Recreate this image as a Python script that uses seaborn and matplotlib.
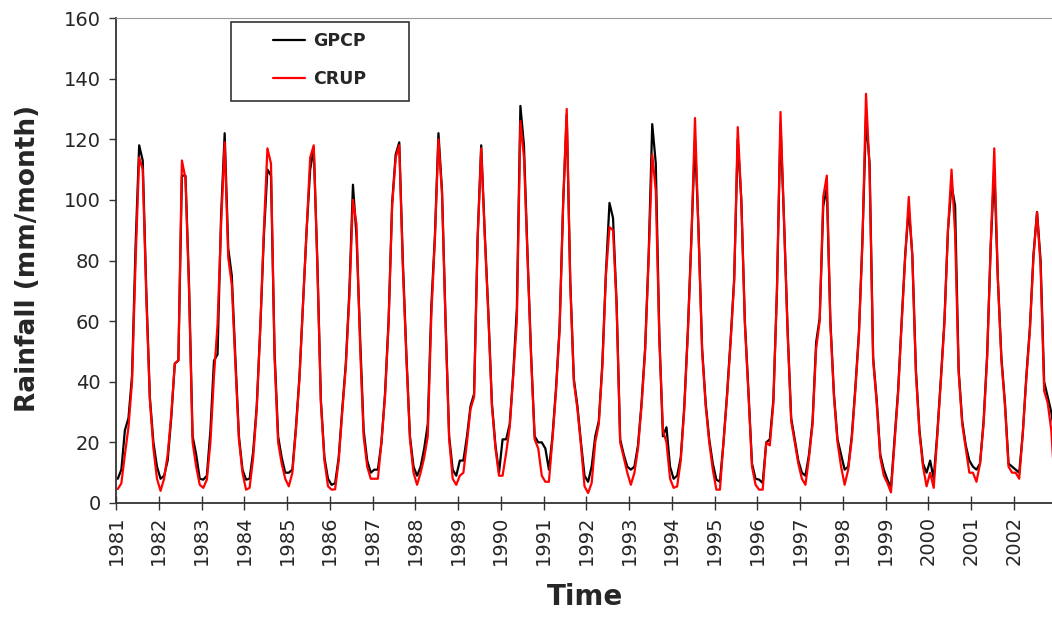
import numpy as np
import pandas as pd
import seaborn as sns
import matplotlib.pyplot as plt
from matplotlib.patches import Rectangle

# monthly rainfall, Jan 1981 - Dec 2002 (mm/month)
years = list(range(1981, 2003))

gpcp = [
    8, 11, 24, 28, 42, 85, 118, 113, 70, 35, 20, 12,      # 1981
    8, 9, 14, 28, 46, 47, 108, 108, 72, 22, 16, 8,        # 1982
    7.7, 9, 24, 47, 49, 95, 122, 84, 75, 48, 22, 11,      # 1983
    7.7, 8, 17, 32, 58, 88, 110, 108, 50, 22, 15, 10,     # 1984
    10, 11, 25, 42, 66, 90, 110, 117, 80, 34, 15, 8,      # 1985
    6, 6.5, 15, 31, 46, 70, 105, 88, 55, 24, 14, 10,      # 1986
    11, 11, 20, 36, 60, 99, 115, 119, 80, 49, 22, 12,     # 1987
    9, 12, 18, 26, 65, 88, 122, 103, 60, 22, 11, 9,       # 1988
    14, 14, 22, 32, 36, 88, 118, 89, 63, 33, 19, 10,      # 1989
    21, 21, 26, 43, 64, 131, 118, 82, 49, 22, 20, 20,     # 1990
    18, 11, 22, 38, 58, 99, 128, 73, 41, 32, 20, 9,       # 1991
    7, 12, 22, 27, 46, 76, 99, 94, 66, 21, 16, 12,        # 1992
    11, 12, 19, 33, 51, 82, 125, 112, 55, 22, 25, 12,     # 1993
    8, 9, 15, 32, 57, 88, 120, 90, 51, 33, 21, 13,        # 1994
    7.7, 7, 20, 36, 54, 74, 120, 100, 60, 37, 13, 8,      # 1995
    7.7, 6.6, 20, 21, 34, 70, 125, 93, 57, 28, 21, 14,    # 1996
    10, 9, 16, 27, 53, 61, 98, 104, 60, 36, 21, 16,       # 1997
    11, 12, 22, 38, 56, 87, 127, 112, 48, 34, 16, 11,     # 1998
    7.7, 5, 21, 37, 60, 82, 97, 82, 44, 24, 13, 10,       # 1999
    14, 8, 23, 41, 60, 90, 105, 98, 44, 27, 19, 14,       # 2000
    12, 11, 13, 27, 49, 85, 110, 74, 48, 33, 13, 12,      # 2001
    11, 10, 23, 42, 58, 82, 96, 80, 40, 35, 30, 22,       # 2002
]

crup = [
    4.6, 6.5, 16, 25, 40, 80, 114, 110, 68, 34, 18, 8,    # 1981
    4, 8, 16, 29, 46, 47, 113, 107, 70, 20, 12, 6,        # 1982
    5, 7.7, 20, 42, 59, 92, 119, 81, 72, 46, 21, 10,      # 1983
    4.4, 5, 15, 31, 58, 90, 117, 112, 48, 20, 13, 8,      # 1984
    5.5, 10, 24, 41, 66, 90, 114, 118, 79, 33, 14, 5.5,   # 1985
    4.4, 4.5, 14, 30, 45, 68, 100, 92, 52, 22, 12, 8,     # 1986
    8, 8, 20, 35, 59, 98, 114, 118, 78, 48, 21, 10,       # 1987
    6, 10, 15, 22, 62, 87, 120, 102, 59, 21, 8, 6,        # 1988
    9, 10, 20, 31, 35, 87, 117, 88, 62, 32, 18, 9,        # 1989
    9, 16.5, 25, 42, 60, 126, 114, 81, 48, 21, 18, 9,     # 1990
    7, 7, 21, 37, 57, 99, 130, 72, 40, 31, 19, 5.5,       # 1991
    3.3, 6.6, 20, 26, 45, 75, 91, 90, 65, 20, 15, 10,     # 1992
    6, 10, 18, 32, 50, 81, 115, 103, 54, 24, 20, 8,       # 1993
    5, 5.5, 14, 31, 56, 87, 127, 89, 50, 32, 20, 11,      # 1994
    4.4, 4.4, 20, 35, 53, 73, 124, 100, 59, 36, 12, 6,    # 1995
    4.4, 4.4, 20, 19, 33, 70, 129, 92, 56, 27, 20, 13,    # 1996
    8, 6, 15, 26, 51, 60, 101, 108, 59, 35, 20, 12,       # 1997
    6, 11, 21, 37, 55, 86, 135, 110, 47, 33, 15, 9,       # 1998
    6.6, 3.5, 20, 36, 59, 81, 101, 81, 43, 23, 12, 5.5,   # 1999
    10, 5, 22, 40, 59, 90, 110, 89, 43, 26, 18, 10,       # 2000
    10, 7, 13, 26, 48, 85, 117, 74, 47, 32, 12, 10,       # 2001
    10, 8, 23, 41, 57, 81, 96, 78, 37, 33, 24, 5,         # 2002
]

n = len(gpcp)
t = np.arange(n) + 0.5   # month centres, year ticks on Jan boundaries

df = pd.concat([
    pd.DataFrame({"t": t, "rain": gpcp, "series": "GPCP"}),
    pd.DataFrame({"t": t, "rain": crup, "series": "CRUP"}),
])

sns.set_style("white")
plt.rcParams['font.family'] = ['DejaVu Sans']

W, H = 1052, 617
fig = plt.figure(figsize=(W / 100, H / 100), dpi=100)
ax = fig.add_axes([116 / W, 1 - 503 / H, (W - 116) / W, 485 / H])

sns.lineplot(data=df, x="t", y="rain", hue="series", hue_order=["GPCP", "CRUP"],
             palette={"GPCP": "black", "CRUP": "#ff0000"}, linewidth=1.6,
             estimator=None, ax=ax)

ax.set_xlim(0, (W - 116) / 3.563)
ax.set_ylim(0, 160)
ax.set_xticks([12 * i for i in range(len(years))])
ax.set_xticklabels([str(y) for y in years], rotation=90)
ax.set_yticks(range(0, 161, 20))
ax.tick_params(axis="x", direction="inout", length=10, width=1, color="#333333",
               labelsize=14, pad=4)
ax.tick_params(axis="y", direction="out", length=5, width=1, color="#333333",
               labelsize=14, pad=6, left=True)
ax.tick_params(axis="x", bottom=True)
ax.set_xlabel("")
ax.set_ylabel("")

for s in ["left", "bottom"]:
    ax.spines[s].set_color("#333333")
    ax.spines[s].set_linewidth(1.3)
ax.spines["right"].set_visible(False)
ax.spines["top"].set_color("#999999")
ax.spines["top"].set_linestyle((0, (1, 1)))
ax.spines["top"].set_linewidth(0.8)

fig.text(28 / W, 1 - 258 / H, "Rainfall (mm/month)", rotation=90, ha="center",
         va="center", fontsize=19, fontweight="bold")
fig.text(585 / W, 1 - 597 / H, "Time", ha="center", va="center",
         fontsize=20, fontweight="bold")

handles, labels = ax.get_legend_handles_labels()
ax.legend(handles, labels, loc="upper left", bbox_to_anchor=(273 / W, 1 - 32 / H),
          bbox_transform=fig.transFigure, frameon=False, borderpad=0,
          borderaxespad=0, labelspacing=1.15, handlelength=1.85, handletextpad=0.45,
          prop={"weight": "bold", "size": 12.5})
fig.add_artist(Rectangle((231 / W, 1 - 101 / H), 178 / W, 79 / H,
                         transform=fig.transFigure, fill=False,
                         edgecolor="#333333", linewidth=1.2))

plt.savefig("out.png", dpi=100)
